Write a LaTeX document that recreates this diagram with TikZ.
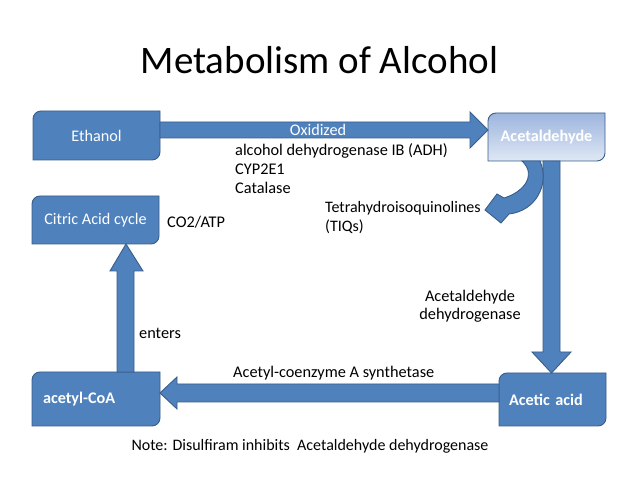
\documentclass[tikz,border=0pt]{standalone}
\usepackage{fontspec}
\setmainfont{Carlito}
\usetikzlibrary{backgrounds}
\definecolor{bfill}{HTML}{4F81BD}
\definecolor{bline}{HTML}{385D8A}
\definecolor{gtop}{HTML}{9BB3DC}
\definecolor{gbot}{HTML}{DDE6F4}
\tikzset{
  boxnode/.style={inner sep=0pt, outer sep=0pt, text=white, font=\fontsize{16.2}{19}\selectfont},
  boxshape/.style={fill=bfill, draw=bline, line width=0.9pt},
  arr/.style={fill=bfill, draw=bline, line width=0.9pt, line join=miter},
  lbl/.style={inner sep=0pt, font=\fontsize{16.3}{19}\selectfont, anchor=west, align=left},
}
\newcommand\diagshape[2]{%
  \path[#1] (#2.south west) -- ([yshift=-8pt]#2.north west)
    arc[start angle=180,end angle=90,radius=8pt] -- (#2.north east)
    -- ([yshift=8pt]#2.south east) arc[start angle=0,end angle=-90,radius=8pt] -- cycle;}
\begin{document}
\begin{tikzpicture}[x=1pt,y=1pt]
\useasboundingbox (0,0) rectangle (638,479);
% title
\node[inner sep=0pt, font=\fontsize{39}{44}\selectfont] (title) at (319.5,419) {Metabolism of Alcohol};
% boxes
\node[boxnode, minimum width=127pt, minimum height=49pt] (eth) at (96.5,343.5) {Ethanol};
\node[boxnode, minimum width=117pt, minimum height=48pt, font=\fontsize{16.2}{19}\selectfont\bfseries] (ald) at (546.5,342) {Acetaldehyde};
\node[boxnode, minimum width=127pt, minimum height=48pt] (cit) at (95.5,259) {Citric Acid cycle};
\node[boxnode, minimum height=54pt, inner xsep=11pt, text width=106pt, align=left, font=\fontsize{16.2}{19}\selectfont\bfseries] (aco) at (96,80) {acetyl-CoA};
\node[boxnode, minimum height=53pt, inner xsep=10pt, text width=87pt, align=left, font=\fontsize{16.2}{19}\selectfont\bfseries] (aca) at (552.5,79.5) {Acetic acid};
\begin{scope}[on background layer]
\diagshape{boxshape}{eth}
\begin{scope}
\diagshape{clip}{ald}
\foreach \i in {0,...,24} {
  \pgfmathsetmacro\p{100*\i/24}
  \fill[gtop!\p!gbot] (487,317.5+2*\i) rectangle (607,320+2*\i);
}
\end{scope}
\diagshape{draw=bline, line width=0.9pt}{ald}
\diagshape{boxshape}{cit}
\diagshape{boxshape}{aco}
\diagshape{boxshape}{aca}
% Ethanol -> Acetaldehyde
\path[arr] (eth.east |- 0,357) -- (470,357) -- (470,367) -- (ald.west |- 0,349)
  -- (470,331) -- (470,341) -- (eth.east |- 0,341) -- cycle;
% Acetaldehyde -> Acetic acid
\path[arr] (543,0 |- ald.south) -- (543,127) -- (532,127) -- (551.5,0 |- aca.north)
  -- (571,127) -- (560,127) -- (560,0 |- ald.south) -- cycle;
% Acetic acid -> acetyl-CoA
\path[arr] (aca.west |- 0,95) -- (177,95) -- (177,102) -- (aco.east |- 0,86)
  -- (177,70) -- (177,77) -- (aca.west |- 0,77) -- cycle;
% acetyl-CoA -> Citric acid cycle
\path[arr] (117,0 |- aco.north) -- (117,208) -- (110,208) -- (126,0 |- cit.south)
  -- (143,208) -- (134,208) -- (134,0 |- aco.north) -- cycle;
% curved arrow to TIQs
\coordinate (tiq) at (485,269);
\path[arr] (540,0 |- ald.south) .. controls (550,295) and (536,268) .. (509,265)
  -- (501,256) -- (tiq) -- (497,285) -- (504,281)
  .. controls (524,287) and (537,304) .. (522,0 |- ald.south) -- cycle;
\end{scope}
% labels
\node[inner sep=0pt, text=white, font=\fontsize{16.2}{19}\selectfont] (ox) at (318,349) {Oxidized};
\node[lbl] (enz1) at (235,328) {alcohol dehydrogenase IB (ADH)};
\node[lbl] (enz2) at (235,310) {CYP2E1};
\node[lbl] (enz3) at (235,291) {Catalase};
\node[lbl, font=\fontsize{16}{19}\selectfont] (tiqs) at (325,271) {Tetrahydroisoquinolines};
\node[lbl, font=\fontsize{16}{19}\selectfont] (tiqs2) at (325,252) {(TIQs)};
\node[lbl] (co2) at (167,257) {CO2/ATP};
\node[lbl] (ent) at (139,146) {enters};
\node[inner sep=0pt, font=\fontsize{16.3}{18.5}\selectfont, align=center] (aldh) at (470,173) {Acetaldehyde\\dehydrogenase};
\node[lbl] (acs) at (233,106) {Acetyl-coenzyme A synthetase};
\node[inner sep=0pt, font=\fontsize{16}{18}\selectfont] (note) at (310,33) {Note: Disulfiram inhibits\ \ Acetaldehyde dehydrogenase};
\end{tikzpicture}
\end{document}
